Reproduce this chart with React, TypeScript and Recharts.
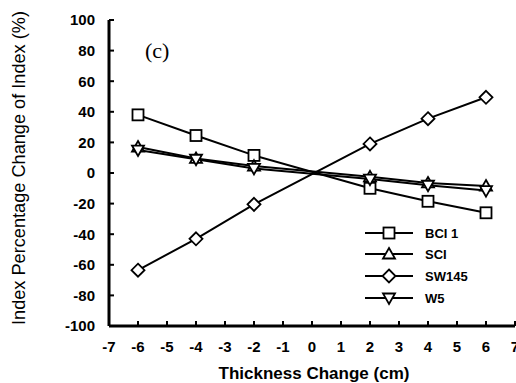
import React from "react";
import { LineChart, Line, XAxis, YAxis, Customized } from "recharts";

const thickness = [-6, -4, -2, 2, 4, 6];
const bci1 = [38, 24.5, 11.5, -10, -18.5, -26];
const sci = [17, 9.5, 4.5, -2.5, -6.5, -8.5];
const sw145 = [-63.5, -43, -20.5, 19, 35.5, 49.5];
const w5 = [15, 9, 3, -4, -8, -11.5];
const xTicks = [-7, -6, -5, -4, -3, -2, -1, 0, 1, 2, 3, 4, 5, 6, 7];
const yTicks = [-100, -80, -60, -40, -20, 0, 20, 40, 60, 80, 100];
const seriesNames = ["BCI 1", "SCI", "SW145", "W5"];
const yTitle = "Index Percentage Change of Index (%)";
const xTitle = "Thickness Change (cm)";

const data = thickness.map((t, i) => ({
  t,
  bci1: bci1[i],
  sci: sci[i],
  sw145: sw145[i],
  w5: w5[i],
}));

const Square = (props: any) => {
  const { cx, cy } = props;
  if (cx == null || cy == null) return null;
  return <rect x={cx - 5.5} y={cy - 5.5} width={11} height={11} fill="white" stroke="black" strokeWidth={1.8} />;
};
const TriUp = (props: any) => {
  const { cx, cy } = props;
  if (cx == null || cy == null) return null;
  return <path d={`M${cx},${cy - 6} L${cx + 6},${cy + 4.5} L${cx - 6},${cy + 4.5} Z`} fill="white" stroke="black" strokeWidth={1.8} />;
};
const TriDown = (props: any) => {
  const { cx, cy } = props;
  if (cx == null || cy == null) return null;
  return <path d={`M${cx},${cy + 6} L${cx + 6},${cy - 4.5} L${cx - 6},${cy - 4.5} Z`} fill="white" stroke="black" strokeWidth={1.8} />;
};
const Diamond = (props: any) => {
  const { cx, cy } = props;
  if (cx == null || cy == null) return null;
  return <path d={`M${cx},${cy - 6.5} L${cx + 6.5},${cy} L${cx},${cy + 6.5} L${cx - 6.5},${cy} Z`} fill="white" stroke="black" strokeWidth={1.8} />;
};

const markers = [Square, TriUp, Diamond, TriDown];

const Extras = () => {
  const x0 = 365;
  const rows = [233, 254, 276, 298];
  return (
    <g>
      {seriesNames.map((n, i) => {
        const M = markers[i];
        return (
          <g key={n}>
            <line x1={x0} x2={x0 + 48} y1={rows[i]} y2={rows[i]} stroke="black" strokeWidth={2} />
            <M cx={x0 + 24} cy={rows[i]} />
            <text x={425} y={rows[i] + 5} fontFamily="Liberation Sans, Arial, sans-serif" fontWeight="bold" fontSize={13}>
              {n}
            </text>
          </g>
        );
      })}
      <text x={145} y={58} fontFamily="Liberation Serif, Times New Roman, serif" fontSize={22}>
        (c)
      </text>
      <text
        transform="translate(25,168) rotate(-90)"
        textAnchor="middle"
        fontFamily="Liberation Sans, Arial, sans-serif"
        fontSize={18}
        textLength={314}
        lengthAdjust="spacingAndGlyphs"
      >
        {yTitle}
      </text>
      <text x={314} y={379} textAnchor="middle" fontFamily="Liberation Sans, Arial, sans-serif" fontWeight="bold" fontSize={17}>
        {xTitle}
      </text>
    </g>
  );
};

const tickStyle = { fontFamily: "Liberation Sans, Arial, sans-serif", fontWeight: "bold" as const, fontSize: 15, fill: "black" };

export default function App() {
  return (
    <div style={{ position: "absolute", left: 0, top: 0, width: 516, height: 383, background: "white" }}>
      <LineChart width={516} height={383} data={data} margin={{ top: 20, right: 1, bottom: 0, left: 0 }}>
        <XAxis
          xAxisId="b"
          dataKey="t"
          type="number"
          domain={[-7, 7]}
          ticks={xTicks}
          interval={0}
          axisLine={{ stroke: "black", strokeWidth: 3 }}
          tickLine={{ stroke: "black", strokeWidth: 2 }}
          tickSize={-5}
          tickMargin={20}
          tick={tickStyle}
          height={57}
        />
        <XAxis
          xAxisId="t"
          orientation="top"
          dataKey="t"
          type="number"
          domain={[-7, 7]}
          tick={false}
          tickLine={false}
          axisLine={{ stroke: "black", strokeWidth: 3 }}
          height={0}
        />
        <YAxis
          yAxisId="l"
          type="number"
          domain={[-100, 100]}
          ticks={yTicks}
          interval={0}
          axisLine={{ stroke: "black", strokeWidth: 3 }}
          tickLine={{ stroke: "black", strokeWidth: 2 }}
          tickSize={-5}
          tickMargin={19}
          tick={tickStyle}
          width={109}
        />
        <YAxis
          yAxisId="r"
          orientation="right"
          type="number"
          domain={[-100, 100]}
          tick={false}
          tickLine={false}
          axisLine={{ stroke: "#999", strokeWidth: 1 }}
          width={0}
        />
        <Line xAxisId="b" yAxisId="l" dataKey="bci1" stroke="black" strokeWidth={2} dot={<Square />} isAnimationActive={false} />
        <Line xAxisId="b" yAxisId="l" dataKey="sci" stroke="black" strokeWidth={2} dot={<TriUp />} isAnimationActive={false} />
        <Line xAxisId="b" yAxisId="l" dataKey="sw145" stroke="black" strokeWidth={2} dot={<Diamond />} isAnimationActive={false} />
        <Line xAxisId="b" yAxisId="l" dataKey="w5" stroke="black" strokeWidth={2} dot={<TriDown />} isAnimationActive={false} />
        <Customized component={Extras} />
      </LineChart>
    </div>
  );
}
